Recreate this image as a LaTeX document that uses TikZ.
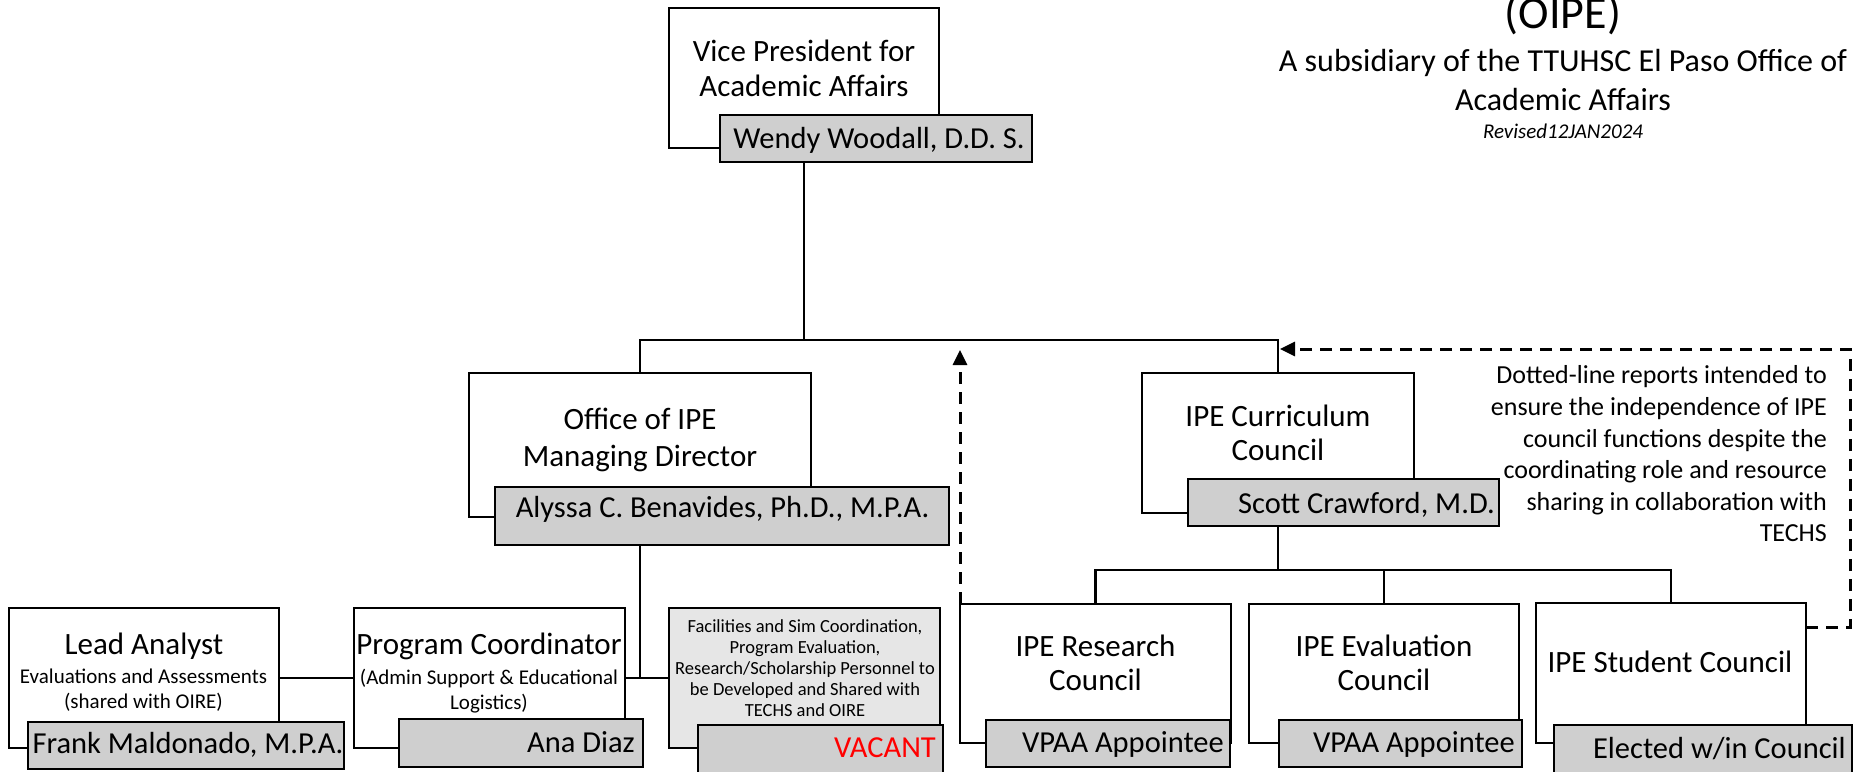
\documentclass[tikz,border=0pt]{standalone}
\usepackage{fontspec}
\setmainfont{Carlito}
\usetikzlibrary{arrows.meta,calc}
\definecolor{namegray}{HTML}{CFCFCF}
\definecolor{facgray}{HTML}{E6E6E6}
\definecolor{vacred}{HTML}{FF0000}
\tikzset{
  box/.style={draw=black, line width=2.2pt, fill=white, rectangle, inner sep=0pt, outer sep=0pt},
  facbox/.style={box, fill=facgray},
  namebox/.style={draw=black, line width=2.6pt, fill=namegray, rectangle, inner sep=0pt, outer sep=0pt},
  conn/.style={draw=black, line width=2.4pt},
  dashconn/.style={draw=black, line width=3pt, dash pattern=on 12pt off 8pt},
  tip/.style={-{Triangle[length=15pt,width=14pt]}},
  titletext/.style={font=\fontsize{31}{35}\selectfont, align=center, inner sep=0pt},
  subtext/.style={font=\fontsize{21}{25}\selectfont, align=center, inner sep=0pt},
  nametext/.style={font=\fontsize{30.5}{35}\selectfont, inner sep=0pt},
}
\begin{document}
\begin{tikzpicture}[x=1pt,y=-1pt]
\useasboundingbox (0,0) rectangle (1862,771);
% white boxes
\node[box, minimum width=270pt, minimum height=140pt] (vp) at (804,78) {};
\node[box, minimum width=342pt, minimum height=144pt] (office) at (640,445) {};
\node[box, minimum width=272pt, minimum height=140pt] (curr) at (1278,443) {};
\node[box, minimum width=270pt, minimum height=140pt] (lead) at (144,678) {};
\node[box, minimum width=271pt, minimum height=140pt] (prog) at (489.5,678) {};
\node[facbox, minimum width=271pt, minimum height=140pt] (fac) at (804.5,678) {};
\node[box, minimum width=271pt, minimum height=139pt] (res) at (1095.5,673.5) {};
\node[box, minimum width=270pt, minimum height=139pt] (eval) at (1384,673.5) {};
\node[box, minimum width=270pt, minimum height=140pt] (stud) at (1671,673) {};
% name boxes
\node[namebox, minimum width=312pt, minimum height=47pt] (vpn) at (876,138.5) {};
\node[namebox, minimum width=454pt, minimum height=58pt] (officen) at (722,516) {};
\node[namebox, minimum width=311pt, minimum height=47pt] (currn) at (1343.5,502.5) {};
\node[namebox, minimum width=316pt, minimum height=47pt] (leadn) at (186,745.5) {};
\node[namebox, minimum width=244pt, minimum height=48pt] (progn) at (521,743) {};
\node[namebox, minimum width=245pt, minimum height=51pt] (facn) at (820.5,750.5) {};
\node[namebox, minimum width=244pt, minimum height=47pt] (resn) at (1108,743.5) {};
\node[namebox, minimum width=243pt, minimum height=47pt] (evaln) at (1400.5,743.5) {};
\node[namebox, minimum width=298pt, minimum height=51pt] (studn) at (1703,750.5) {};
% connector points
\coordinate (busMid) at (804,340);
\coordinate (subBus) at (1278,570);
\coordinate (upTip) at (960,350);
\coordinate (rightBot) at (1850,627);
\coordinate (rightTop) at (1850,349);
\coordinate (leftTip) at (1280,349);
% solid connectors
\draw[conn] (vp.south |- vpn.south) -- (busMid);
\draw[conn] (office.north) |- (busMid) -| (curr.north);
\draw[conn] (office.south |- officen.south) -- (office.south |- prog.east);
\draw[conn] (lead.east) -- (prog.west);
\draw[conn] (prog.east) -- (fac.west);
\draw[conn] (curr.south |- currn.south) -- (subBus);
\draw[conn] (res.north) |- (subBus) -| (stud.north);
\draw[conn] (eval.north) -- (eval.north |- subBus);
% dashed connectors
\draw[dashconn, tip] (res.north west) -- (upTip);
\draw[dashconn, tip] ($(stud.north east)+(0,24)$) -- (rightBot) -- (rightTop) -- (leftTip);
% titles
\node[titletext] (vp-t) at (804,68.5) {Vice President for\\Academic Affairs};
\node[titletext, font=\fontsize{31}{37}\selectfont] (office-t) at (640,440) {Office of IPE\\Managing Director};
\node[titletext, font=\fontsize{31}{34}\selectfont] (curr-t) at (1278,432.5) {IPE Curriculum\\Council};
\node[titletext, anchor=base] (lead-t) at (144,654) {Lead Analyst};
\node[subtext] (lead-s) at (143.5,690.5) {Evaluations and Assessments\\(shared with OIRE)};
\node[titletext, anchor=base] (prog-t) at (489,654) {Program Coordinator};
\node[subtext] (prog-s) at (489,691.5) {(Admin Support \& Educational\\Logistics)};
\node[font=\fontsize{18.5}{20.85}\selectfont, align=center, inner sep=0pt] (fac-t) at (805,668.3) {Facilities and Sim Coordination,\\Program Evaluation,\\Research/Scholarship Personnel to\\be Developed and Shared with\\TECHS and OIRE};
\node[titletext, font=\fontsize{31}{34}\selectfont] (res-t) at (1095.5,663) {IPE Research\\Council};
\node[titletext, font=\fontsize{31}{34}\selectfont] (eval-t) at (1384,663) {IPE Evaluation\\Council};
\node[titletext] (stud-t) at (1670,662) {IPE Student Council};
% names
\node[nametext, anchor=base] (vpn-t) at (879,148) {Wendy Woodall, D.D. S.};
\node[nametext, anchor=base] (officen-t) at (722.5,517) {Alyssa C. Benavides, Ph.D., M.P.A.};
\node[nametext, anchor=base east] (currn-t) at (1495,513) {Scott Crawford, M.D.};
\node[nametext, anchor=base] (leadn-t) at (188,753) {Frank Maldonado, M.P.A.};
\node[nametext, anchor=base east] (progn-t) at (635,752) {Ana Diaz};
\node[nametext, anchor=base east, text=vacred] (facn-t) at (936,757) {VACANT};
\node[nametext, anchor=base east] (resn-t) at (1224,752) {VPAA Appointee};
\node[nametext, anchor=base east] (evaln-t) at (1515,752) {VPAA Appointee};
\node[nametext, anchor=base east] (studn-t) at (1846,758) {Elected w/in Council};
% note
\node[font=\fontsize{26}{31.6}\selectfont, align=right, anchor=east, inner sep=0pt] (note) at (1827,454) {Dotted-line reports intended to\\ensure the independence of IPE\\council functions despite the\\coordinating role and resource\\sharing in collaboration with\\TECHS};
% heading
\node[font=\fontsize{46}{52}\selectfont, anchor=base, inner sep=0pt] (oipe) at (1563,28) {(OIPE)};
\node[font=\fontsize{32}{39}\selectfont, align=center, inner sep=0pt] (subsid) at (1563,80) {A subsidiary of the TTUHSC El Paso Office of\\Academic Affairs};
\node[font=\fontsize{21}{25}\selectfont\itshape, anchor=base, inner sep=0pt] (rev) at (1563,138) {Revised12JAN2024};
\end{tikzpicture}
\end{document}
